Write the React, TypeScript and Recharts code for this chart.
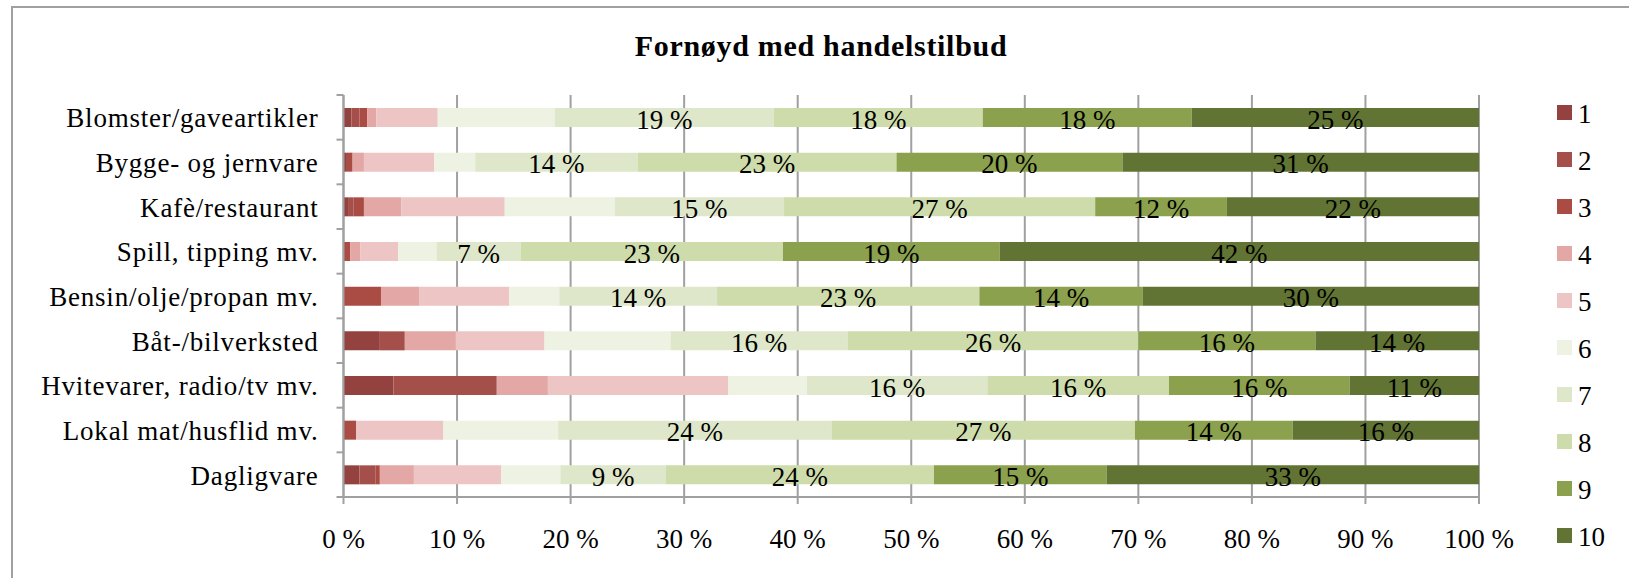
import React from "react";
import { BarChart, Bar, XAxis, YAxis, CartesianGrid, LabelList } from "recharts";

// categories, top to bottom
const categories = [
  "Blomster/gaveartikler",
  "Bygge- og jernvare",
  "Kafè/restaurant",
  "Spill, tipping mv.",
  "Bensin/olje/propan mv.",
  "Båt-/bilverksted",
  "Hvitevarer, radio/tv mv.",
  "Lokal mat/husflid mv.",
  "Dagligvare",
];

// share (%) answering each score, one array per score
const s1 = [0.7, 0.3, 0.4, 0, 0, 3.2, 4.4, 0, 1.4];
const s2 = [0.7, 0, 0.5, 0, 0, 2.2, 9.1, 0, 1.4];
const s3 = [0.7, 0.5, 0.9, 0.6, 3.3, 0, 0, 1.1, 0.4];
const s4 = [0.8, 1.0, 3.3, 0.9, 3.4, 4.5, 4.5, 0, 3.0];
const s5 = [5.4, 6.2, 9.1, 3.3, 7.9, 7.8, 15.9, 7.7, 7.7];
const s6 = [10.3, 3.6, 9.7, 3.4, 4.4, 11.1, 6.9, 10.1, 5.2];
const s7 = [19.3, 14.3, 14.9, 7.4, 13.9, 15.6, 15.9, 24.1, 9.3];
const s8 = [18.4, 22.8, 27.4, 23.1, 23.1, 25.6, 16.0, 26.7, 23.6];
const s9 = [18.4, 19.9, 11.6, 19.1, 14.4, 15.6, 15.9, 13.9, 15.2];
const s10 = [25.3, 31.4, 22.2, 42.2, 29.6, 14.4, 11.4, 16.4, 32.8];

const seriesNames = ["1", "2", "3", "4", "5", "6", "7", "8", "9", "10"];
const seriesColors = [
  "#944240",
  "#a54f4a",
  "#aa4b44",
  "#e3a7a6",
  "#edc5c5",
  "#eef2e2",
  "#dee7ca",
  "#cedcab",
  "#8ba14d",
  "#617434",
];
const labelledSeries = ["7", "8", "9", "10"];
const xTicks = [0, 10, 20, 30, 40, 50, 60, 70, 80, 90, 100];

const allSeries = [s1, s2, s3, s4, s5, s6, s7, s8, s9, s10];
const data = categories.map((name, i) => {
  const row: any = { name };
  allSeries.forEach((s, k) => {
    row["v" + (k + 1)] = s[i];
  });
  return row;
});

const FONT = "'Liberation Serif', 'Times New Roman', serif";
const GRAY = "#a0a0a0";
const W = 1629;
const H = 578;
const MARGIN = { top: 95, right: 150, bottom: 51, left: 0 };
const Y_AXIS_W = 343.5;
const X_AXIS_H = 30;
const PLOT_LEFT = MARGIN.left + Y_AXIS_W;
const PLOT_H = H - MARGIN.top - MARGIN.bottom - X_AXIS_H;

const CategoryTick = (props: any) => {
  const { y, payload, index } = props;
  const band = PLOT_H / categories.length;
  return (
    <g>
      <line
        x1={PLOT_LEFT - 7}
        x2={PLOT_LEFT}
        y1={y - band / 2}
        y2={y - band / 2}
        stroke={GRAY}
        strokeWidth={2}
      />
      {index === categories.length - 1 && (
        <line
          x1={PLOT_LEFT - 7}
          x2={PLOT_LEFT}
          y1={y + band / 2}
          y2={y + band / 2}
          stroke={GRAY}
          strokeWidth={2}
        />
      )}
      <text
        x={PLOT_LEFT - 25}
        y={y}
        dy={10}
        textAnchor="end"
        fontFamily={FONT}
        fontSize={27}
        letterSpacing={0.8}
        fill="#000"
      >
        {payload.value}
      </text>
    </g>
  );
};

const renderValue = (props: any) => {
  const vb = props.viewBox && props.viewBox.width !== undefined ? props.viewBox : props;
  const { x, y, width, height } = vb;
  const value = props.value;
  if (value === undefined || value === null) return null;
  return (
    <text
      x={x + width / 2}
      y={y + height / 2 + 11}
      textAnchor="middle"
      fontFamily={FONT}
      fontSize={27}
      fill="#000"
    >
      {`${Math.round(value)} %`}
    </text>
  );
};

export default function App() {
  return (
    <div
      style={{
        position: "absolute",
        left: 0,
        top: 0,
        width: W,
        height: H,
        overflow: "hidden",
        background: "#fff",
      }}
    >
      <div
        style={{
          position: "absolute",
          left: 11,
          top: 6,
          width: 1700,
          height: 700,
          border: `2px solid ${GRAY}`,
        }}
      />
      <div
        style={{
          position: "absolute",
          left: 0,
          top: 31,
          width: 1642,
          textAlign: "center",
          fontFamily: FONT,
          fontWeight: "bold",
          fontSize: 30,
          lineHeight: "30px",
          letterSpacing: 0.7,
          color: "#000",
        }}
      >
        Fornøyd med handelstilbud
      </div>

      <div style={{ position: "absolute", left: 0, top: 0 }}>
        <BarChart
          width={W}
          height={H}
          data={data}
          layout="vertical"
          margin={MARGIN}
          barSize={19}
        >
          <CartesianGrid horizontal={false} stroke={GRAY} strokeWidth={2} />
          <XAxis
            type="number"
            domain={[0, 100]}
            ticks={xTicks}
            height={X_AXIS_H}
            tickFormatter={(v: number) => `${v} %`}
            axisLine={{ stroke: GRAY, strokeWidth: 2 }}
            tickLine={{ stroke: GRAY, strokeWidth: 2 }}
            tickSize={7}
            tickMargin={25}
            tick={{ fontFamily: FONT, fontSize: 27, fill: "#000" }}
            interval={0}
          />
          <YAxis
            type="category"
            dataKey="name"
            width={Y_AXIS_W}
            axisLine={{ stroke: GRAY, strokeWidth: 2 }}
            tickLine={false}
            tick={<CategoryTick />}
            interval={0}
          />
          {seriesNames.map((s, k) => (
            <Bar
              key={s}
              dataKey={"v" + (k + 1)}
              name={s}
              stackId="a"
              fill={seriesColors[k]}
              isAnimationActive={false}
            >
              {labelledSeries.includes(s) && (
                <LabelList dataKey={"v" + (k + 1)} content={renderValue} />
              )}
            </Bar>
          ))}
        </BarChart>
      </div>

      {/* legend */}
      <div style={{ position: "absolute", left: 1557, top: 105 }}>
        {seriesNames.map((s, k) => (
          <div key={s} style={{ position: "relative", height: 47 }}>
            <div
              style={{
                position: "absolute",
                left: 0,
                top: 0,
                width: 14.5,
                height: 14.5,
                background: seriesColors[k],
              }}
            />
            <div
              style={{
                position: "absolute",
                left: 21,
                top: -4,
                fontFamily: FONT,
                fontSize: 27,
                lineHeight: "27px",
                color: "#000",
                whiteSpace: "nowrap",
              }}
            >
              {s}
            </div>
          </div>
        ))}
      </div>
    </div>
  );
}
